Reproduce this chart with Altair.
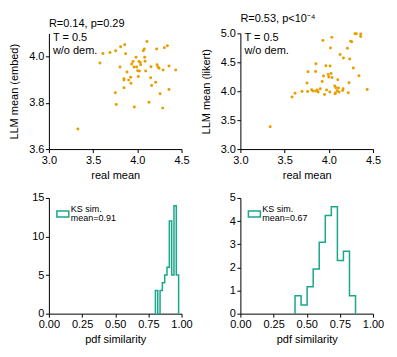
import altair as alt
import pandas as pd

# ---------------- data ----------------
real_embed = [3.328, 3.577, 3.611, 3.69, 3.755, 3.811, 3.857, 3.868, 3.804, 3.751,
              3.762, 3.849, 3.849, 3.849, 3.883, 3.902, 3.925, 3.928, 3.936, 3.951,
              3.966, 3.962, 3.985, 3.992, 4.004, 4.011, 4.019, 4.034, 4.038, 4.023,
              4.068, 4.079, 4.083, 4.087, 4.094, 4.109, 4.132, 4.151, 4.155, 4.162,
              4.208, 4.219, 4.223, 4.234, 4.245, 4.257, 4.287, 4.291, 4.306, 4.34,
              4.358, 4.358, 4.434]
llm_embed = [3.687, 3.972, 4.013, 4.017, 4.025, 4.042, 4.051, 4.012, 3.955, 3.843,
             3.793, 3.904, 3.898, 3.865, 3.933, 3.898, 3.91, 3.884, 3.968, 3.978,
             3.782, 3.955, 3.997, 3.955, 3.939, 3.914, 3.978, 3.974, 3.964, 3.937,
             4.025, 4.032, 3.997, 3.98, 3.937, 4.065, 3.802, 3.908, 3.956, 3.875,
             3.889, 4.032, 3.964, 3.955, 3.949, 3.839, 3.777, 3.942, 4.038, 4.047,
             3.959, 3.857, 3.942]

real_likert = [3.337, 3.584, 3.618, 3.697, 3.753, 3.764, 3.76, 3.805, 3.82, 3.854,
               3.85, 3.85, 3.869, 3.88, 3.903, 3.925, 3.933, 3.94, 3.951, 3.966,
               3.974, 3.993, 4.0, 4.015, 4.011, 4.019, 4.026, 4.034, 4.037, 4.067,
               4.071, 4.075, 4.079, 4.094, 4.101, 4.109, 4.116, 4.127, 4.165, 4.157,
               4.161, 4.21, 4.22, 4.229, 4.236, 4.247, 4.259, 4.277, 4.296, 4.311,
               4.341, 4.36, 4.36, 4.434]
llm_likert = [3.386, 3.899, 3.963, 3.997, 4.141, 4.337, 3.997, 4.026, 4.003, 4.476,
              4.343, 4.003, 4.02, 3.986, 4.043, 4.17, 4.879, 4.262, 3.945, 4.441,
              4.02, 4.291, 4.245, 4.435, 3.986, 4.746, 4.308, 4.931, 4.239, 4.089,
              3.957, 3.968, 4.06, 4.009, 4.199, 4.055, 3.986, 4.637, 4.573, 4.014,
              4.043, 4.741, 3.974, 4.147, 4.556, 4.862, 4.856, 4.401, 4.994, 4.994,
              4.268, 4.988, 4.948, 4.032]

hist1_edges = [0.803, 0.8205, 0.838, 0.8555, 0.873, 0.8905, 0.908, 0.9255, 0.943, 0.9605, 0.978]
hist1_density = [3.0, 0.0, 3.0, 4.0, 5.0, 6.0, 12.0, 5.0, 14.0, 5.0]

hist2_edges = [0.412, 0.4576, 0.5032, 0.5488, 0.5944, 0.64, 0.6856, 0.7312, 0.7768, 0.8224, 0.868]
hist2_density = [0.77, 0.37, 1.16, 1.93, 3.09, 4.24, 4.62, 2.30, 2.70, 0.77]

titles = ["R=0.14, p=0.29", "R=0.53, p<10\u207b\u2074"]
annot = ["T = 0.5", "w/o dem."]
legend1 = ["KS sim.", "mean=0.91"]
legend2 = ["KS sim.", "mean=0.67"]

ORANGE = "#E69F00"
TEAL = "#1AA88A"
W, H = 133, 116
FONT = "Liberation Sans"


def step_frame(edges, dens):
    xs = [edges[0]] + list(edges[:-1]) + [edges[-1]]
    ys = [0.0] + list(dens) + [0.0]
    return pd.DataFrame({"x": xs, "y": ys, "o": list(range(len(xs)))})


def scatter(xv, yv, ytitle, ydom, yticks, title):
    df = pd.DataFrame({"x": xv, "y": yv})
    pts = alt.Chart(df).mark_circle(size=9, color=ORANGE, opacity=1).encode(
        x=alt.X("x:Q", scale=alt.Scale(domain=[3.0, 4.5], nice=False, zero=False),
                axis=alt.Axis(values=[3.0, 3.5, 4.0, 4.5], format=".1f", title="real mean")),
        y=alt.Y("y:Q", scale=alt.Scale(domain=ydom, nice=False, zero=False),
                axis=alt.Axis(values=yticks, format=".1f", title=ytitle)),
    )
    tdf = pd.DataFrame({"t": annot, "i": [0, 1]})
    txt = alt.Chart(tdf).mark_text(align="left", baseline="middle", fontSize=11,
                                   font=FONT, color="black").encode(
        x=alt.value(4),
        y=alt.Y("i:O", scale=alt.Scale(type="point", range=[5, 17.5], padding=0), axis=None),
        text="t:N",
    )
    return alt.layer(pts, txt).resolve_scale(y="independent").properties(
        width=W, height=H,
        title=alt.TitleParams(title, anchor="start", frame="group", offset=3, fontSize=11,
                              fontWeight="normal", font=FONT),
    )


def hist(edges, dens, ydom, yticks, leg):
    df = step_frame(edges, dens)
    line = alt.Chart(df).mark_line(interpolate="step-after", color=TEAL, strokeWidth=1.5).encode(
        x=alt.X("x:Q", scale=alt.Scale(domain=[0, 1], nice=False),
                axis=alt.Axis(values=[0, 0.25, 0.5, 0.75, 1.0], format=".2f", title="pdf similarity")),
        y=alt.Y("y:Q", scale=alt.Scale(domain=ydom, nice=False),
                axis=alt.Axis(values=yticks, format="d", title=None)),
        order="o:Q",
    )
    patch = alt.Chart(pd.DataFrame({"k": [0]})).mark_rect(
        fill="white", stroke=TEAL, strokeWidth=1.5).encode(
        x=alt.value(8), x2=alt.value(20), y=alt.value(13), y2=alt.value(19))
    ldf = pd.DataFrame({"t": leg, "i": [0, 1]})
    ltxt = alt.Chart(ldf).mark_text(align="left", baseline="middle", fontSize=9,
                                    font=FONT, color="black").encode(
        x=alt.value(22),
        y=alt.Y("i:O", scale=alt.Scale(type="point", range=[11, 20], padding=0), axis=None),
        text="t:N",
    )
    return alt.layer(line, patch, ltxt).resolve_scale(y="independent").properties(width=W, height=H)


p1 = scatter(real_embed, llm_embed, "LLM mean (embed)", [3.6, 4.1], [3.6, 3.8, 4.0], titles[0])
p2 = scatter(real_likert, llm_likert, "LLM mean (likert)", [3.0, 5.0], [3.0, 3.5, 4.0, 4.5, 5.0], titles[1])
p3 = hist(hist1_edges, hist1_density, [0, 15], [0, 5, 10, 15], legend1)
p4 = hist(hist2_edges, hist2_density, [0, 5], [0, 1, 2, 3, 4, 5], legend2)

chart = alt.concat(p1, p2, p3, p4, columns=2, spacing={"row": 12, "column": 7}).configure(
    font=FONT,
    padding={"left": 0, "top": 5, "right": 5, "bottom": 5},
).configure_view(stroke=None).configure_axis(
    grid=False,
    labelFontSize=11,
    titleFontSize=11,
    titleFontWeight="normal",
    labelColor="black",
    titleColor="black",
    domainColor="black",
    tickColor="black",
    tickSize=3.5,
    labelPadding=1.5,
    labelFlush=False,
    labelOverlap=False,
    labelFont=FONT,
    titleFont=FONT,
).configure_axisX(titlePadding=4).configure_axisY(titlePadding=9)

chart.save("out.html", embed_options={"renderer": "svg", "actions": False})
